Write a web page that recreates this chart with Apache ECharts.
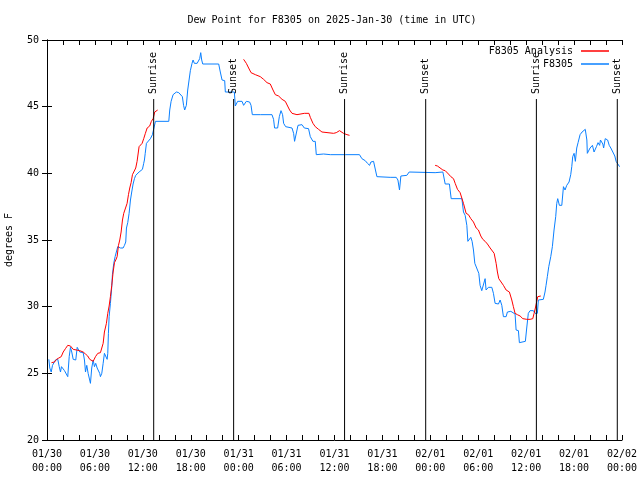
<!DOCTYPE html>
<html><head><meta charset="utf-8">
<script src="https://cdn.jsdelivr.net/npm/echarts@6/dist/echarts.min.js"></script>
<style>html,body{margin:0;padding:0;background:#fff}#c{width:640px;height:480px}</style>
</head><body><div id="c"></div>
<script>
// hours since 2025-01-30 00:00 UTC, dew point in °F
const startUTC = Date.UTC(2025, 0, 30);
const xMin = 0, xMax = 72, xStep = 2, labelStep = 6;
const yMin = 20, yMax = 50, yStep = 5;

const obsF8305 = [
[0.23,26.05],[0.35,25.4],[0.53,25.1],[0.69,25.6],[0.85,25.5],[1.06,26.0],[1.35,26.05],[1.53,25.5],[1.69,25.1],[1.81,25.5],[1.94,25.35],[2.19,25.2],[2.44,25.05],[2.6,24.75],[2.78,26.25],[2.94,26.95],[3.1,26.6],[3.28,26.05],[3.44,26.1],[3.6,26.0],[3.78,26.95],[3.94,26.9],[4.1,26.6],[4.32,26.65],[4.53,26.55],[4.69,26.0],[4.82,25.1],[4.98,25.6],[5.15,25.0],[5.28,24.9],[5.44,24.25],[5.6,25.4],[5.78,26.0],[5.94,25.5],[6.1,25.75],[6.28,25.4],[6.44,25.5],[6.6,25.0],[6.69,24.75],[6.86,25.0],[7.03,25.75],[7.19,26.5],[7.36,26.4],[7.53,26.05],[7.61,26.5],[7.69,28.0],[7.78,29.25],[7.94,30.25],[8.11,31.5],[8.19,32.4],[8.36,33.25],[8.53,33.75],[8.69,33.6],[8.86,34.5],[9.03,34.45],[9.2,34.4],[9.53,34.4],[9.7,34.6],[9.86,34.85],[9.95,35.9],[10.11,36.3],[10.28,37.0],[10.45,38.0],[10.61,38.6],[10.78,39.2],[10.95,39.6],[11.11,39.85],[11.28,40.0],[11.53,40.1],[11.7,40.25],[11.95,40.3],[12.11,40.75],[12.2,41.0],
[12.3,41.5],[12.45,42.25],[12.95,42.6],[13.2,42.9],[13.37,43.0],[13.58,43.9],[15.25,43.9],[15.37,44.75],[15.54,45.4],[15.79,45.9],[16.2,46.1],[16.5,46.05],[16.7,45.9],[16.95,45.75],[17.1,45.1],[17.24,44.75],[17.45,45.1],[17.62,46.25],[17.79,47.0],[17.95,47.7],[18.16,48.25],[18.29,48.5],[18.45,48.25],[18.8,48.25],[19.0,48.3],[19.12,48.6],[19.25,49.05],[19.37,48.5],[19.5,48.2],[21.5,48.2],[21.7,47.6],[21.92,47.0],[22.25,46.95],[22.33,46.1],[23.46,46.1],
[23.58,45.05],[23.87,45.4],[24.42,45.4],[24.62,45.1],[24.96,45.4],[25.37,45.35],[25.55,45.1],[25.71,44.4],[26.71,44.4],[26.92,44.35],[28.17,44.4],[28.37,44.05],[28.5,43.4],[28.88,43.4],[29.09,44.25],[29.3,44.7],[29.5,44.4],[29.63,43.75],[29.88,43.5],[30.68,43.4],[30.88,43.0],[31.0,42.4],[31.21,42.5],[31.43,43.6],[31.93,43.65],[32.22,43.4],[32.75,43.35],[32.97,42.75],[33.3,42.4],[33.59,42.4],[33.72,41.4],[34.63,41.45],[34.84,41.3],[35.47,41.4],[37.35,41.4],[39.13,41.4],[39.43,41.1],[39.85,40.95],[40.13,40.75],[40.39,40.6],[40.56,40.85],[40.89,40.9],[41.14,40.85],[41.31,39.75],[42.97,39.7],[43.19,39.6],[43.73,39.7],[43.94,39.5],[44.14,38.75],[44.31,39.8],[45.06,39.85],[45.35,40.1],[48.6,40.05],[49.57,40.1],
[49.86,39.2],[50.39,39.2],[50.61,38.1],[51.95,38.1],[52.15,37.1],[52.36,36.85],[52.57,36.1],[52.7,34.9],[52.9,34.9],[53.07,35.2],[53.23,34.9],[53.4,34.25],[53.57,33.25],[53.82,33.1],[54.07,32.5],[54.23,31.6],[54.44,31.2],[54.65,31.25],[54.86,32.1],[54.98,31.25],[55.27,31.45],[55.49,31.3],[55.7,31.45],[55.9,31.0],[56.11,30.25],[56.53,30.2],[56.74,30.5],[56.95,30.1],[57.15,29.25],[57.49,29.25],[57.65,29.6],[57.9,29.5],[58.08,29.65],[58.61,29.45],[58.74,28.25],[59.03,28.2],[59.15,27.3],[59.33,27.45],[59.9,27.4],[60.07,28.4],[60.27,29.5],[60.49,29.7],[60.9,29.7],[61.11,29.5],[61.4,29.5],[61.53,30.5],[62.15,30.55],[62.36,31.1],[62.49,31.6],[62.65,32.25],[62.83,33.0],[63.08,33.75],[63.28,34.5],[63.49,35.75],[63.7,36.75],[63.83,37.75],[63.95,38.1],[64.16,37.6],[64.46,37.6],[64.67,39.0],[64.87,38.75],[65.08,39.1],[65.37,39.35],[65.58,39.9],[65.71,40.5],[65.83,41.25],[66.0,41.5],[66.16,40.9],[66.33,41.9],[66.5,42.3],[66.75,42.9],[67.0,43.1],[67.2,43.25],[67.4,43.3],[67.6,42.5],[67.66,41.5],[68.0,41.9],[68.3,42.1],[68.5,41.6],[68.6,41.45],[68.8,42.0],[69.0,42.3],[69.2,42.1],[69.3,42.5],[69.6,42.2],[69.7,41.9],[69.9,42.6],[70.1,42.75],[70.2,42.5],[70.4,42.1],[70.6,41.9],[70.85,41.6],[71.1,41.3],[71.26,40.9],[71.45,40.75],[71.7,40.5]
];

const analysisSeg1 = [
[0.56,25.8],[0.94,25.85],[1.19,26.05],[1.48,26.15],[1.78,26.25],[2.03,26.6],[2.31,26.85],[2.6,27.1],[2.94,27.05],[3.28,26.8],[3.53,26.7],[4.1,26.7],[4.53,26.6],[4.82,26.45],[5.1,26.3],[5.35,26.05],[5.78,25.9],[6.07,26.25],[6.36,26.5],[6.69,26.55],[6.91,26.7],[7.03,27.25],[7.19,28.1],[7.44,28.75],[7.61,29.5],[7.78,30.05],[7.94,30.75],[8.11,31.6],[8.28,32.6],[8.45,33.3],[8.61,33.5],[8.78,33.75],[8.95,34.6],[9.11,35.0],[9.28,35.6],[9.45,36.5],[9.61,37.0],[9.86,37.1],[10.03,37.75],[10.2,38.4],[10.36,38.9],[10.53,39.3],[10.7,39.9],[10.95,39.9],[11.11,40.4],[11.28,40.9],[11.53,42.0],[11.74,42.1],[11.91,42.25],[12.11,42.6],[12.32,43.0],[12.54,43.4],[12.86,43.55],[13.07,43.9],[13.29,44.1],[13.49,44.6],[13.7,44.75],[13.86,44.75]
];
const analysisSeg2 = [
[24.62,48.55],[24.83,48.5],[24.96,48.25],[25.25,47.9],[25.55,47.55],[26.09,47.4],[26.71,47.25],[27.12,47.05],[27.55,46.8],[27.96,46.7],[28.3,46.25],[28.59,45.9],[29.0,45.8],[29.43,45.55],[29.84,45.4],[30.13,45.05],[30.38,44.75],[30.68,44.5],[31.3,44.4],[32.22,44.5],[32.8,44.5],[32.97,44.2],[33.3,43.75],[33.59,43.5],[34.0,43.3],[34.43,43.1],[34.63,43.0],[35.88,43.0],[36.22,43.05],[36.63,43.2],[37.13,43.0],[37.56,42.9],[37.88,42.85]
];
const analysisSeg3 = [
[48.6,40.6],[48.89,40.55],[49.14,40.4],[49.57,40.25],[49.86,40.2],[50.27,39.95],[50.57,39.75],[50.9,39.6],[51.11,39.25],[51.4,38.8],[51.73,38.55],[51.95,38.5],[52.15,37.75],[52.48,37.0],[52.77,36.9],[53.07,36.6],[53.4,36.35],[53.74,35.9],[54.02,35.75],[54.32,35.3],[54.57,35.05],[54.86,34.9],[55.15,34.7],[55.49,34.4],[55.7,34.25],[55.99,34.0],[56.24,33.25],[56.4,32.6],[56.57,32.1],[56.82,32.0],[57.15,31.6],[57.49,31.25],[57.9,31.1],[58.2,30.5],[58.4,30.0],[58.61,29.5],[58.9,29.4],[59.24,29.3],[59.58,29.1],[60.08,29.05],[60.49,29.05],[60.83,29.1],[60.99,29.5],[61.15,29.9],[61.33,30.4],[61.45,30.75],[61.83,30.8]
];

const sunEvents = [
[13.36,'Sunrise'],[23.37,'Sunset'],[37.26,'Sunrise'],[47.42,'Sunset'],[61.28,'Sunrise'],[71.41,'Sunset']
];

const FONT = 'DejaVu Sans Mono';
const RED = '#ff0000', BLUE = '#0a80ff';

function fmtX(v){
  if (v % labelStep !== 0) return '';
  const d = new Date(startUTC + v*3600e3);
  const p = n => String(n).padStart(2,'0');
  return p(d.getUTCMonth()+1)+'/'+p(d.getUTCDate())+'\n'+p(d.getUTCHours())+':'+p(d.getUTCMinutes());
}

const chart = echarts.init(document.getElementById('c'), null, {renderer:'canvas'});
const axisCommon = {
  axisLine:{show:true,lineStyle:{color:'#000',width:1}},
  axisTick:{show:true,inside:true,length:5,lineStyle:{color:'#000'}},
  splitLine:{show:false}
};
const anaLine = d => ({
  name:'F8305 Analysis', type:'line', data:d, xAxisIndex:0, yAxisIndex:0,
  showSymbol:false, symbol:'none', lineStyle:{color:RED,width:1}, itemStyle:{color:RED},
  animation:false, z:3
});
chart.setOption({
  animation:false,
  backgroundColor:'#fff',
  title:{text:'Dew Point for F8305 on 2025-Jan-30 (time in UTC)', left:327, top:10, textAlign:'center',
    textStyle:{fontFamily:FONT,fontSize:10,fontWeight:'normal',color:'#000'}},
  grid:{left:47,right:18,top:40,bottom:40,containLabel:false,outerBoundsMode:'none'},
  legend:[
    {data:['F8305 Analysis'], right:31, top:46, align:'right', icon:'rect', itemWidth:28, itemHeight:1.5,
     textStyle:{fontFamily:FONT,fontSize:10,color:'#000',padding:[0,3,0,0]}, padding:0},
    {data:['F8305'], right:31, top:59, align:'right', icon:'rect', itemWidth:28, itemHeight:1.5,
     textStyle:{fontFamily:FONT,fontSize:10,color:'#000',padding:[0,3,0,0]}, padding:0}
  ],
  xAxis:[
    Object.assign({type:'value',min:xMin,max:xMax,interval:xStep,position:'bottom',
      axisLabel:{formatter:fmtX,fontFamily:FONT,fontSize:10,color:'#000',lineHeight:14,margin:7,showMinLabel:true,showMaxLabel:true}},axisCommon),
    Object.assign({type:'value',min:xMin,max:xMax,interval:xStep,position:'top',axisLabel:{show:false}},axisCommon)
  ],
  yAxis:[
    Object.assign({type:'value',min:yMin,max:yMax,interval:yStep,position:'left',
      name:'degrees F',nameLocation:'middle',nameGap:33,nameRotate:90,
      nameTextStyle:{fontFamily:FONT,fontSize:10,color:'#000'},
      axisLabel:{fontFamily:FONT,fontSize:10,color:'#000',margin:8}},axisCommon),
    Object.assign({type:'value',min:yMin,max:yMax,interval:yStep,position:'right',axisLabel:{show:false}},axisCommon)
  ],
  series:[
    anaLine(analysisSeg1), anaLine(analysisSeg2), anaLine(analysisSeg3),
    {name:'F8305', type:'line', data:obsF8305, showSymbol:false, symbol:'none',
     lineStyle:{color:BLUE,width:1}, itemStyle:{color:BLUE}, z:2},
    {type:'custom', data:sunEvents, z:4, silent:true,
     encode:{x:0},
     renderItem:function(params, api){
       const x = api.value(0);
       const name = sunEvents[params.dataIndex][1];
       const b = api.coord([x, yMin]);
       const t = api.coord([x, yMax]);
       const lineTop = t[1] + 59;
       return {type:'group', children:[
         {type:'line', shape:{x1:b[0],y1:b[1],x2:b[0],y2:lineTop}, style:{stroke:'#000',lineWidth:1}},
         {type:'text', x:b[0], y:lineTop-5, rotation:Math.PI/2,
          style:{text:name, fill:'#000', font:'10px "'+FONT+'"', align:'left', verticalAlign:'middle'}}
       ]};
     }}
  ]
});
</script></body></html>
